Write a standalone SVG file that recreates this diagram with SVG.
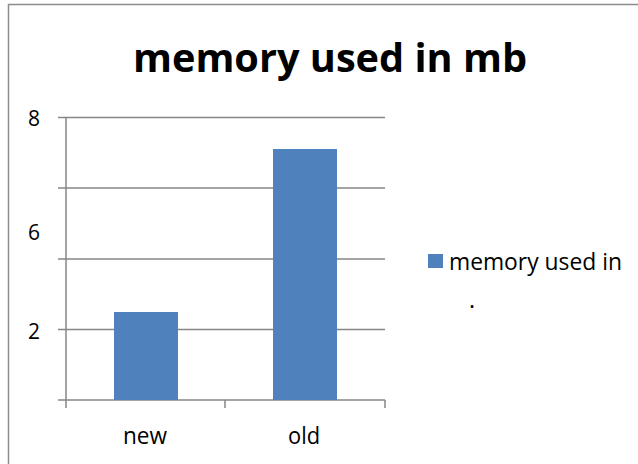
<svg xmlns="http://www.w3.org/2000/svg" width="638" height="464" viewBox="0 0 638 464">
<style>
.ax{stroke:#868686;stroke-width:1.5;fill:none}
.bar{fill:#4F81BD}
.t{font-family:"Open Sans","Liberation Sans",sans-serif;fill:#000}
</style>
<rect width="638" height="464" fill="#fff"/>
<rect x="8.5" y="4.5" width="640" height="470" fill="none" stroke="#8c8c8c" stroke-width="1.5"/>
<text class="t" x="330" y="72" font-size="40" font-weight="bold" text-anchor="middle" textLength="394" lengthAdjust="spacingAndGlyphs">memory used in mb</text>
<g id="grid">
<path class="ax" d="M58 117.5H385M58 188H385M58 259H385M58 329.5H385M58 400H385M66 117.5V408M225 400V408M385 400V408"/>
</g>
<g id="yaxis">
<text class="t" x="34" y="126" font-size="21" text-anchor="middle">8</text>
<text class="t" x="34" y="240" font-size="21" text-anchor="middle">6</text>
<text class="t" x="34" y="339" font-size="21" text-anchor="middle">2</text>
</g>
<g id="bar-new"><rect class="bar" x="114" y="312" width="64" height="88"/></g>
<g id="bar-old"><rect class="bar" x="273" y="149" width="64" height="251"/></g>
<g id="xaxis">
<text class="t" x="123" y="444" font-size="24" textLength="44" lengthAdjust="spacingAndGlyphs">new</text>
<text class="t" x="288" y="444" font-size="24" textLength="32" lengthAdjust="spacingAndGlyphs">old</text>
</g>
<g id="legend">
<rect class="bar" x="428" y="254" width="15" height="14"/>
<text class="t" x="449" y="270" font-size="23" textLength="173" lengthAdjust="spacingAndGlyphs">memory used in</text>
<text class="t" x="469" y="308" font-size="23">.</text>
</g>
</svg>
